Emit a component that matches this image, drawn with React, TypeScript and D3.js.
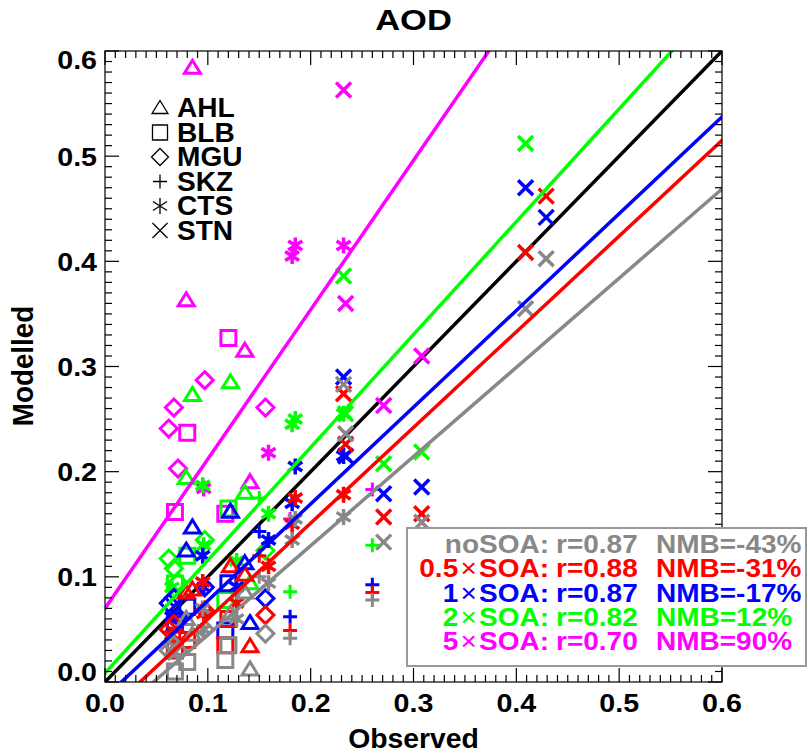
import React from "react";
import * as d3 from "d3";

// ---------- data ----------
const sites = ["AHL", "BLB", "MGU", "SKZ", "CTS", "STN"];
const siteSymbols = ["triangle", "square", "diamond", "plus", "asterisk", "cross"];
const scenarioNames = ["noSOA", "0.5×SOA", "1×SOA", "2×SOA", "5×SOA"];
const scenarioColors = ["#888888", "#ff0000", "#0000ff", "#00ff00", "#ff00ff"];
const rValues = ["0.87", "0.88", "0.87", "0.82", "0.70"];
const nmbValues = ["-43%", "-31%", "-17%", "12%", "90%"];
const fitIntercepts = [-0.04, -0.031, -0.0147, 0.0085, 0.07];
const fitSlopes = [0.848, 0.91, 0.92, 1.073, 1.42];
const axisTicks = [0, 0.1, 0.2, 0.3, 0.4, 0.5, 0.6];

// observed values per site, modelled values [noSOA, 0.5x, 1x, 2x, 5x]
const AHL_obs = [0.085, 0.079, 0.122, 0.136, 0.141];
const AHL_mod = [
  [0.045, 0.06, 0.065, 0.085, 0.012],
  [0.088, 0.085, 0.11, 0.102, 0.034],
  [0.147, 0.125, 0.162, 0.113, 0.056],
  [0.273, 0.194, 0.285, 0.18, 0.094],
  [0.584, 0.363, null, 0.315, 0.19],
];
const BLB_obs = [0.068, 0.08, 0.117, 0.12];
const BLB_mod = [
  [0.01, 0.019, 0.021, 0.035],
  [0.03, 0.04, 0.035, 0.06],
  [0.055, 0.0715, 0.049, 0.094],
  [0.0937, 0.12, 0.078, 0.165],
  [0.1617, 0.237, 0.16, 0.327],
];
const MGU_obs = [0.062, 0.067, 0.071, 0.097, 0.156];
const MGU_mod = [
  [0.03, 0.035, 0.03, 0.05, 0.046],
  [0.05, 0.055, 0.045, 0.068, 0.0636],
  [0.075, 0.08, 0.062, 0.09, 0.0795],
  [0.1174, 0.108, 0.095, 0.135, 0.125],
  [0.241, 0.261, 0.203, 0.287, 0.261],
];
const SKZ_obs = [0.15, 0.18, 0.26];
const SKZ_mod = [
  [0.1, 0.0415, 0.078],
  [0.12, 0.049, 0.085],
  [0.143, 0.062, 0.0925],
  [0.175, 0.0857, 0.13],
  [null, 0.155, 0.183],
];
const CTS_obs = [0.065, 0.095, 0.096, 0.128, 0.159, 0.182, 0.185, 0.232];
const CTS_mod = [
  [0.03, 0.07, 0.05, 0.06, 0.094, 0.135, 0.155, 0.157],
  [0.045, 0.095, 0.065, 0.075, 0.11, 0.15, 0.175, 0.178],
  [0.062, 0.12, 0.09, 0.0905, 0.135, 0.17, 0.205, 0.215],
  [0.09, 0.187, 0.13, 0.115, 0.16, 0.245, 0.25, 0.255],
  [null, null, 0.184, null, 0.218, 0.405, 0.415, 0.415],
];
const STN_obs = [0.232, 0.234, 0.271, 0.308, 0.409, 0.429];
const STN_mod = [
  [0.283, 0.236, 0.133, 0.152, 0.355, 0.4025],
  [0.274, 0.226, 0.157, 0.16, 0.4085, 0.462],
  [0.29, 0.215, 0.179, 0.1855, 0.47, 0.4418],
  [0.386, 0.255, 0.2076, 0.2187, 0.512, null],
  [0.563, 0.36, 0.263, 0.31, null, null],
];

const siteObs = [AHL_obs, BLB_obs, MGU_obs, SKZ_obs, CTS_obs, STN_obs];
const siteMod = [AHL_mod, BLB_mod, MGU_mod, SKZ_mod, CTS_mod, STN_mod];

// ---------- layout ----------
const W = 808;
const H = 754;
const PL = 105, PR = 722, PT = 51, PB = 682;
const FONT = "'Liberation Sans', Arial, Helvetica, sans-serif";

function symbolPath(kind: string): string {
  switch (kind) {
    case "triangle":
      return "M0,-7.5L8,5.5L-8,5.5Z";
    case "square":
      return "M-7.5,-7.5H7.5V7.5H-7.5Z";
    case "diamond":
      return "M0,-8.5L8.5,0L0,8.5L-8.5,0Z";
    case "plus":
      return "M-7,0H7M0,-7V7";
    case "asterisk":
      return "M0,-8V8M-7,-4.5L7,4.5M-7,4.5L7,-4.5";
    case "cross":
    default:
      return "M-7.5,-7.5L7.5,7.5M-7.5,7.5L7.5,-7.5";
  }
}

// text drawn with a slight horizontal stretch, like the reference's font
function SText(props: {
  x: number;
  y: number;
  sx?: number;
  size: number;
  anchor?: "start" | "middle" | "end";
  fill?: string;
  dy?: string;
  children: React.ReactNode;
}) {
  const { x, y, sx = 1.12, size, anchor = "start", fill = "#000", dy, children } = props;
  return (
    <text
      transform={`translate(${x},${y}) scale(${sx},1)`}
      textAnchor={anchor}
      fontSize={size}
      fontWeight="bold"
      fill={fill}
      dy={dy}
    >
      {children}
    </text>
  );
}

export default function App() {
  const x = d3.scaleLinear().domain([0, 0.6]).range([PL, PR]);
  const y = d3.scaleLinear().domain([0, 0.6]).range([PB, PT]);
  const minor = x.ticks(60);
  const fmt = d3.format(".1f");

  const points: { cx: number; cy: number; sym: string; color: string; key: string }[] = [];
  const drawOrder = [4, 3, 2, 1, 0];
  drawOrder.forEach((s) => {
    sites.forEach((site, k) => {
      siteObs[k].forEach((o, i) => {
        const v = siteMod[k][s][i];
        if (v === null || v === undefined) return;
        points.push({
          cx: x(o),
          cy: y(v),
          sym: siteSymbols[k],
          color: scenarioColors[s],
          key: `${s}-${site}-${i}`,
        });
      });
    });
  });

  const fitLine = (a: number, b: number) => {
    const line = d3.line<number>().x((d) => x(d)).y((d) => y(a + b * d));
    return line([-0.05, 0.65]) || "";
  };

  const yLabelY = (v: number) => Math.min(PB - 10, Math.max(PT + 9, y(v)));

  return (
    <svg
      width={W}
      height={H}
      viewBox={`0 0 ${W} ${H}`}
      style={{ position: "absolute", left: 0, top: 0, background: "#fff" }}
      fontFamily={FONT}
    >
      <rect x={0} y={0} width={W} height={H} fill="#fff" />
      <defs>
        <clipPath id="plotclip">
          <rect x={PL} y={PT} width={PR - PL} height={PB - PT} />
        </clipPath>
      </defs>

      {/* title */}
      <SText x={(PL + PR) / 2} y={30} size={30} sx={1.15} anchor="middle">
        AOD
      </SText>

      <g clipPath="url(#plotclip)">
        <path d={fitLine(0, 1)} stroke="#000" strokeWidth={3.5} fill="none" />
        {points.map((p) => (
          <path
            key={p.key}
            d={symbolPath(p.sym)}
            transform={`translate(${p.cx},${p.cy})`}
            fill="none"
            stroke={p.color}
            strokeWidth={p.sym === "asterisk" || p.sym === "cross" ? 3.5 : 3}
          />
        ))}
        {fitSlopes.map((b, s) => (
          <path
            key={"fit" + s}
            d={fitLine(fitIntercepts[s], b)}
            stroke={scenarioColors[s]}
            strokeWidth={3.5}
            fill="none"
          />
        ))}
      </g>

      {/* frame */}
      <rect x={PL} y={PT} width={PR - PL} height={PB - PT} fill="none" stroke="#000" strokeWidth={1.2} />

      {/* ticks */}
      {minor.map((t, i) => {
        const major = Math.abs(t * 10 - Math.round(t * 10)) < 1e-6;
        const len = major ? 14 : 7;
        return (
          <g key={"t" + i} stroke="#000" strokeWidth={1.2}>
            <line x1={x(t)} x2={x(t)} y1={PB} y2={PB - len} />
            <line x1={x(t)} x2={x(t)} y1={PT} y2={PT + len} />
            <line x1={PL} x2={PL + len} y1={y(t)} y2={y(t)} />
            <line x1={PR} x2={PR - len} y1={y(t)} y2={y(t)} />
          </g>
        );
      })}

      {/* tick labels */}
      {axisTicks.map((t) => (
        <SText key={"xl" + t} x={x(t)} y={712} size={26} sx={1.1} anchor="middle">
          {fmt(t)}
        </SText>
      ))}
      {axisTicks.map((t) => (
        <SText key={"yl" + t} x={97} y={yLabelY(t)} dy="0.36em" size={26} sx={1.1} anchor="end">
          {fmt(t)}
        </SText>
      ))}

      {/* axis titles */}
      <SText x={(PL + PR) / 2} y={748} size={27} sx={1.05} anchor="middle">
        Observed
      </SText>
      <text
        transform={`translate(33,366) rotate(-90) scale(1.03,1.08)`}
        textAnchor="middle"
        fontSize={27}
        fontWeight="bold"
      >
        Modelled
      </text>

      {/* legend */}
      {sites.map((s, i) => {
        const by = 117 + i * 24.5;
        return (
          <g key={"lg" + s}>
            <path
              d={symbolPath(siteSymbols[i])}
              transform={`translate(160,${by - 9})`}
              fill="none"
              stroke="#000"
              strokeWidth={1.3}
            />
            <SText x={177} y={by} size={27} sx={1.04}>
              {s}
            </SText>
          </g>
        );
      })}

      {/* stats box */}
      <rect x={407} y={528} width={399} height={138} fill="#fff" stroke="#999" strokeWidth={2} />
      {scenarioNames.map((n, i) => {
        const by = 553 + i * 24.3;
        const parts = n.split("×");
        const c = scenarioColors[i];
        return (
          <g key={"st" + i}>
            <SText x={549} y={by} size={25} anchor="end" fill={c}>
              {parts.length > 1 ? (
                <>
                  {parts[0]}
                  <tspan fontWeight="normal" dx={2}>×</tspan>
                  <tspan dx={2}>{parts[1] + ":"}</tspan>
                </>
              ) : (
                n + ":"
              )}
            </SText>
            <SText x={556} y={by} size={25} fill={c}>
              {"r=" + rValues[i]}
            </SText>
            <SText x={656} y={by} size={25} fill={c}>
              {"NMB=" + nmbValues[i]}
            </SText>
          </g>
        );
      })}
    </svg>
  );
}
